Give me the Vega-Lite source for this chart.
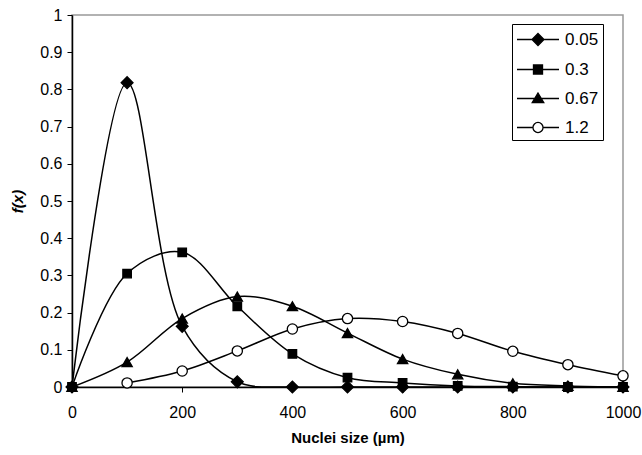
{
  "$schema": "https://vega.github.io/schema/vega-lite/v6.json",
  "width": 551,
  "height": 372,
  "autosize": {"type": "none"},
  "padding": {"left": 72, "top": 15, "right": 19, "bottom": 68},
  "background": "white",
  "config": {
    "font": "Liberation Sans",
    "view": {"stroke": "#999999", "strokeWidth": 1.5},
    "axis": {"grid": false, "domainColor": "black", "tickColor": "black", "labelColor": "black", "titleColor": "black", "labelFont": "Liberation Sans", "titleFont": "Liberation Sans"}
  },
  "data": {"values": [
    {"size": 0, "f": 0, "series": "0.05"},
    {"size": 100, "f": 0.818, "series": "0.05"},
    {"size": 200, "f": 0.163, "series": "0.05"},
    {"size": 300, "f": 0.014, "series": "0.05"},
    {"size": 400, "f": 0, "series": "0.05"},
    {"size": 500, "f": 0, "series": "0.05"},
    {"size": 600, "f": 0, "series": "0.05"},
    {"size": 700, "f": 0, "series": "0.05"},
    {"size": 800, "f": 0, "series": "0.05"},
    {"size": 900, "f": 0, "series": "0.05"},
    {"size": 1000, "f": 0, "series": "0.05"},
    {"size": 0, "f": 0, "series": "0.3"},
    {"size": 100, "f": 0.305, "series": "0.3"},
    {"size": 200, "f": 0.362, "series": "0.3"},
    {"size": 300, "f": 0.217, "series": "0.3"},
    {"size": 400, "f": 0.089, "series": "0.3"},
    {"size": 500, "f": 0.025, "series": "0.3"},
    {"size": 600, "f": 0.011, "series": "0.3"},
    {"size": 700, "f": 0.003, "series": "0.3"},
    {"size": 800, "f": 0.001, "series": "0.3"},
    {"size": 900, "f": 0, "series": "0.3"},
    {"size": 1000, "f": 0, "series": "0.3"},
    {"size": 0, "f": 0, "series": "0.67"},
    {"size": 100, "f": 0.067, "series": "0.67"},
    {"size": 200, "f": 0.184, "series": "0.67"},
    {"size": 300, "f": 0.243, "series": "0.67"},
    {"size": 400, "f": 0.217, "series": "0.67"},
    {"size": 500, "f": 0.145, "series": "0.67"},
    {"size": 600, "f": 0.075, "series": "0.67"},
    {"size": 700, "f": 0.034, "series": "0.67"},
    {"size": 800, "f": 0.01, "series": "0.67"},
    {"size": 900, "f": 0.003, "series": "0.67"},
    {"size": 1000, "f": 0, "series": "0.67"},
    {"size": 100, "f": 0.011, "series": "1.2"},
    {"size": 200, "f": 0.043, "series": "1.2"},
    {"size": 300, "f": 0.097, "series": "1.2"},
    {"size": 400, "f": 0.156, "series": "1.2"},
    {"size": 500, "f": 0.184, "series": "1.2"},
    {"size": 600, "f": 0.176, "series": "1.2"},
    {"size": 700, "f": 0.144, "series": "1.2"},
    {"size": 800, "f": 0.096, "series": "1.2"},
    {"size": 900, "f": 0.06, "series": "1.2"},
    {"size": 1000, "f": 0.03, "series": "1.2"}
  ]},
  "encoding": {
    "x": {"field": "size", "type": "quantitative",
      "scale": {"domain": [0, 1000], "nice": false, "zero": false},
      "axis": {"values": [0, 200, 400, 600, 800, 1000], "format": "d", "title": "Nuclei size (µm)", "labelFontSize": 16, "titleFontSize": 15, "titleFontWeight": "bold", "tickSize": 5, "labelPadding": 12, "titlePadding": 10, "domainWidth": 1.5, "labelFlush": false}},
    "y": {"field": "f", "type": "quantitative",
      "scale": {"domain": [0, 1], "nice": false},
      "axis": {"values": [0, 0.1, 0.2, 0.3, 0.4, 0.5, 0.6, 0.7, 0.8, 0.9, 1], "format": "~g", "title": "f(x)", "labelFontSize": 16, "titleFontSize": 15, "titleFontWeight": "bold", "titleFontStyle": "italic", "tickSize": 5, "labelPadding": 5, "titlePadding": 14, "domainWidth": 1.5, "labelFlush": false}}
  },
  "layer": [
    {
      "mark": {"type": "line", "interpolate": "catmull-rom", "color": "black", "strokeWidth": 1.5, "clip": true},
      "encoding": {"detail": {"field": "series"}}
    },
    {
      "mark": {"type": "point", "filled": true, "stroke": "black", "strokeWidth": 1.3, "opacity": 1},
      "encoding": {
        "fill": {"field": "series", "type": "nominal",
          "scale": {"domain": ["0.05", "0.3", "0.67", "1.2"], "range": ["black", "black", "black", "white"]},
          "legend": {
            "title": null,
            "orient": "none",
            "legendX": 440,
            "legendY": 9,
            "padding": 4,
            "strokeColor": "black",
            "fillColor": "white",
            "symbolSize": 441,
            "symbolStrokeWidth": 1.3,
            "symbolStrokeColor": "black",
            "symbolType": {"expr": "datum.value === '0.05' ? 'M-1,0H3M1,-0.57L1.57,0L1,0.57L0.43,0Z' : datum.value === '0.3' ? 'M-1,0H3M0.57,-0.43H1.43V0.43H0.57Z' : datum.value === '0.67' ? 'M-1,0H3M1,-0.52L1.55,0.4L0.45,0.4Z' : 'M-1,0H0.52M1.48,0H3M1.48,0A0.48,0.48 0 1 1 0.52,0A0.48,0.48 0 1 1 1.48,0'"},
            "labelOffset": 26,
            "labelFontSize": 17,
            "labelFont": "Liberation Sans",
            "labelColor": "black",
            "rowPadding": 9
          }},
        "shape": {"condition": [
          {"test": "datum.series === '0.05'", "value": "diamond"},
          {"test": "datum.series === '0.3'", "value": "square"},
          {"test": "datum.series === '0.67'", "value": "triangle-up"}
        ], "value": "circle"},
        "size": {"condition": [
          {"test": "datum.series === '0.05'", "value": 140},
          {"test": "datum.series === '0.3'", "value": 72}
        ], "value": 105}
      }
    }
  ]
}
